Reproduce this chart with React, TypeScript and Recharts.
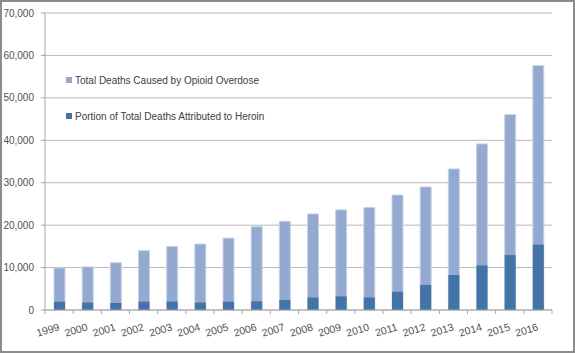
import React from 'react';
import { BarChart, Bar, XAxis, YAxis, CartesianGrid, Legend } from 'recharts';

const years = ['1999', '2000', '2001', '2002', '2003', '2004', '2005', '2006', '2007', '2008', '2009', '2010', '2011', '2012', '2013', '2014', '2015', '2016'];
const totalDeaths = [9900, 10150, 11150, 14000, 15000, 15550, 16950, 19650, 20900, 22650, 23600, 24150, 27100, 29000, 33250, 39150, 46050, 57600];
const heroinDeaths = [1950, 1750, 1650, 1950, 2000, 1750, 1950, 2050, 2350, 2950, 3200, 2950, 4300, 5900, 8250, 10500, 12950, 15400];
const yTicks = [0, 10000, 20000, 30000, 40000, 50000, 60000, 70000];
const seriesNames = ['Total Deaths Caused by Opioid Overdose', 'Portion of Total Deaths Attributed to Heroin'];

const data = years.map((y, i) => ({ year: y, total: totalDeaths[i], heroin: heroinDeaths[i] }));

const LIGHT = '#94a9d0';
const DARK = '#4473a8';
const AXIS = '#a6a6a6';
const GRID = '#b8b8b8';
const TEXT = '#505050';
const FONT = '"Liberation Sans", Arial, sans-serif';

const XTick = (props: any) => {
  const { x, y, payload } = props;
  const idx = props.index ?? payload?.index ?? 0;
  const off = payload?.offset ?? 0;
  const isLast = idx === years.length - 1;
  const tx = x + 1;
  const ty = y + 20;
  return (
    <g>
      <line x1={x - off} x2={x - off} y1={y} y2={y + 4} stroke={AXIS} />
      {isLast && <line x1={x + off} x2={x + off} y1={y} y2={y + 4} stroke={AXIS} />}
      <text
        x={tx}
        y={ty}
        textAnchor="end"
        transform={`rotate(-17, ${tx}, ${ty})`}
        fontSize={10.5}
        fontFamily={FONT}
        fill={TEXT}
      >
        {payload.value}
      </text>
    </g>
  );
};

const LegendContent = () => {
  const colors = [LIGHT, DARK];
  return (
    <div style={{ fontFamily: FONT, fontSize: 10, color: '#404040' }}>
      {seriesNames.map((n, i) => (
        <div key={n} style={{ display: 'flex', alignItems: 'center', height: 12, marginBottom: i === 0 ? 24 : 0, whiteSpace: 'nowrap' }}>
          <span style={{ display: 'inline-block', width: 6, height: 6, background: colors[i], marginRight: 3 }} />
          <span>{n}</span>
        </div>
      ))}
    </div>
  );
};

export default function App() {
  return (
    <div style={{ position: 'relative', width: 575, height: 353, background: '#fff' }}>
      <style>{`body{margin:0;}`}</style>
      <BarChart
        width={575}
        height={353}
        data={data}
        margin={{ top: 13, right: 23, bottom: 0, left: 0 }}
        barSize={11}
        barGap={-11}
      >
        <CartesianGrid vertical={false} stroke={GRID} />
        <XAxis
          dataKey="year"
          height={43}
          interval={0}
          tickLine={false}
          tickSize={0}
          tickMargin={0}
          axisLine={{ stroke: AXIS }}
          tick={<XTick />}
        />
        <YAxis
          width={45}
          domain={[0, 70000]}
          ticks={yTicks}
          interval={0}
          tickSize={4}
          tickMargin={7}
          tickLine={{ stroke: AXIS }}
          axisLine={{ stroke: AXIS }}
          tick={{ fontSize: 10, fontFamily: FONT, fill: TEXT }}
          tickFormatter={(v: number) => v.toLocaleString('en-US')}
        />
        <Legend
          content={<LegendContent />}
          layout="vertical"
          verticalAlign="middle"
          align="center"
          wrapperStyle={{ top: 74, left: 66, width: 'auto' }}
        />
        <Bar dataKey="total" name={seriesNames[0]} fill={LIGHT} stroke="#c8d3e8" strokeWidth={1} isAnimationActive={false} />
        <Bar dataKey="heroin" name={seriesNames[1]} fill={DARK} isAnimationActive={false} />
      </BarChart>
      <div style={{ position: 'absolute', left: 0, top: 0, width: 575, height: 353, boxSizing: 'border-box', border: '2px solid #8c8c8c', pointerEvents: 'none' }} />
    </div>
  );
}
